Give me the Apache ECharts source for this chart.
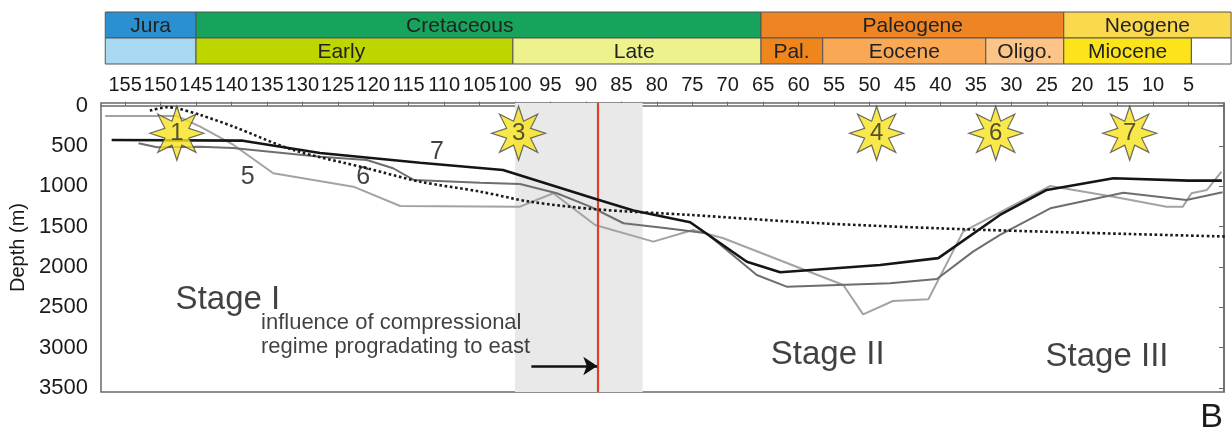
<!DOCTYPE html>
<html><head><meta charset="utf-8">
<script src="https://cdn.jsdelivr.net/npm/echarts@6/dist/echarts.min.js"></script>
<style>html,body{margin:0;padding:0;background:#fff}#c{width:1232px;height:437px}</style>
</head><body><div id="c"></div>
<script>
// ---------- data ----------
const xTicks = [155,150,145,140,135,130,125,120,115,110,105,100,95,90,85,80,75,70,65,60,55,50,45,40,35,30,25,20,15,10,5];
const yTicks = [0,500,1000,1500,2000,2500,3000,3500];

// geologic time scale: [startMa, endMa, row, label, colour, labelCentreMa]
const timeRow1 = [
  [157.8,145,0,'Jura','#2b90cf',151.4],
  [145,65.3,0,'Cretaceous','#18a35c',107.8],
  [65.3,22.6,0,'Paleogene','#ee8424',43.9],
  [22.6,-1,0,'Neogene','#fbd94f',10.8]
];
const timeRow2 = [
  [157.8,145,1,'','#a9d8f1',151.4],
  [145,100.3,1,'Early','#bdd600',124.5],
  [100.3,65.3,1,'Late','#eef28c',83.2],
  [65.3,56.6,1,'Pal.','#ef861c',61.0],
  [56.6,33.6,1,'Eocene','#f9a955',45.1],
  [33.6,22.6,1,'Oligo.','#fcc487',28.1],
  [22.6,4.6,1,'Miocene','#fde41a',13.6],
  [4.6,-1,1,'','#ffffff',1.8]
];

// subsidence curves: [age Ma, depth m]
const curve7 = [[156.9,425],[138.4,434],[127.5,587],[113.4,707],[101.7,797],[88.5,1160],[83.3,1300],[75.3,1445],[67.3,1935],[62.6,2065],[48.5,1975],[40.3,1890],[31.6,1355],[25.0,1045],[15.6,900],[5.0,930],[0.3,930]];
const curve6 = [[153.1,466],[150.5,516],[144.4,508],[139.8,525],[127.5,632],[120.9,673],[117.2,776],[114.3,921],[104.9,955],[99.3,971],[94.1,1086],[89.4,1252],[84.7,1458],[78.6,1520],[73.0,1582],[65.9,2099],[61.7,2244],[47.1,2202],[40.5,2149],[35.4,1810],[31.6,1603],[24.5,1272],[14.2,1079],[5.3,1169],[0.2,1074]];
const curve5 = [[157.8,128],[147.7,128],[144.4,260],[139.7,487],[134.1,838],[122.8,1004],[116.2,1244],[99.3,1252],[94.6,1086],[88.7,1479],[80.5,1686],[74.9,1541],[70.6,1644],[53.7,2223],[50.9,2587],[46.7,2422],[41.7,2401],[36.8,1562],[24.5,996],[15.6,1128],[8.1,1252],[5.8,1252],[4.6,1086],[2.4,1045],[0.35,818]];
const curveDotted = [[151.5,62],[149.1,20],[147.7,32],[144.4,115],[139.7,260],[131.3,549],[120.9,776],[113.4,942],[104.9,1066],[97.9,1190],[88.5,1285],[75.3,1355],[56.9,1458],[33.5,1541],[-1.1,1624]];

// events (stars)
const starAges = [147.7,99.5,49.0,32.2,13.3];
const starDepth = 342;
const starLabels = ['1','3','4','6','7'];

// annotations
const curveLabels = [[137.7,884,'5'],[121.4,884,'6'],[111.0,574,'7']];
const stageLabels = [[140.5,2410,'Stage I'],[55.9,3090,'Stage II'],[16.5,3115,'Stage III']];
const shadeBand = [100,82];
const compressionAge = 88.4;
const arrowFrom = [97.7,3228];
const noteText = ['influence of compressional','regime progradating to east'];
const noteAt = [135.9,2842];

// ---------- chart ----------
const FONT = "'Liberation Sans', Arial, sans-serif";
function starPath(n, R, r){
  let d='';
  for(let i=0;i<2*n;i++){
    const a=-Math.PI/2+i*Math.PI/n, rad=(i%2)?r:R;
    d+=(i?'L':'M')+(R+rad*Math.cos(a)).toFixed(2)+' '+(R+rad*Math.sin(a)).toFixed(2);
  }
  return 'path://'+d+'Z';
}
const chart = echarts.init(document.getElementById('c'), null, {renderer:'canvas'});
const timeData = timeRow1.concat(timeRow2);
const txt = (size, extra) => Object.assign({show:true,position:'inside',fontSize:size,fontFamily:FONT,color:'#111',
  textBorderWidth:0,textShadowBlur:0,formatter:p=>p.data.name}, extra||{});

const option = {
  backgroundColor:'#ffffff',
  animation:false,
  grid:[
    {left:101,right:8,top:103,bottom:45,show:true,borderColor:'#6a6a6a',borderWidth:1.5,backgroundColor:'transparent'},
    {left:101,right:8,top:12,height:52}
  ],
  xAxis:[
    {type:'value',gridIndex:0,position:'top',inverse:true,min:0,max:158.4,
     axisLine:{show:true,lineStyle:{color:'#6a6a6a',width:1.5}},
     axisTick:{show:true,length:4,customValues:xTicks,lineStyle:{color:'#6a6a6a'}},
     axisLabel:{customValues:xTicks,fontSize:20,fontFamily:FONT,color:'#1a1a1a',margin:8},
     splitLine:{show:false}},
    {type:'value',gridIndex:1,inverse:true,min:0,max:158.4,show:false}
  ],
  yAxis:[
    {type:'value',gridIndex:0,inverse:true,min:-33,max:3550,
     name:'Depth (m)',nameLocation:'middle',nameRotate:90,nameGap:70,
     nameTextStyle:{fontSize:20,fontFamily:FONT,color:'#1a1a1a'},
     axisLine:{show:true,lineStyle:{color:'#6a6a6a',width:1.5}},
     axisTick:{show:true,length:5,customValues:yTicks,lineStyle:{color:'#6a6a6a'}},
     axisLabel:{customValues:yTicks,fontSize:22,fontFamily:FONT,color:'#1a1a1a',margin:13,formatter:v=>String(v)},
     splitLine:{show:false}},
    {type:'value',gridIndex:1,inverse:true,min:0,max:2,show:false}
  ],
  series:[
    {type:'custom',xAxisIndex:1,yAxisIndex:1,data:timeData,clip:false,
     renderItem:function(params,api){
       const d=timeData[params.dataIndex];
       const p0=api.coord([d[0],d[2]]);
       const p1=api.coord([d[1],d[2]+1]);
       const pc=api.coord([d[5],d[2]+0.5]);
       return {type:'group',children:[
         {type:'rect',shape:{x:p0[0],y:p0[1],width:p1[0]-p0[0],height:p1[1]-p0[1]},
          style:{fill:d[4],stroke:'#555',lineWidth:1}},
         {type:'text',style:{text:d[3],x:pc[0],y:pc[1]+1,align:'center',verticalAlign:'middle',
          fontSize:21,fontFamily:FONT,fill:'#222'}}
       ]};
     }},
    {type:'line',name:'band',data:[],
     markArea:{silent:true,itemStyle:{color:'#e9e9e9'},data:[[{xAxis:shadeBand[0]},{xAxis:shadeBand[1]}]]},
     markLine:{silent:true,symbol:['none','none'],label:{show:false},lineStyle:{color:'#e0402a',width:2.2,type:'solid'},
       data:[{xAxis:compressionAge}]}},
    {type:'line',name:'5',data:curve5,symbol:'none',lineStyle:{color:'#a3a3a3',width:2},z:3},
    {type:'line',name:'6',data:curve6,symbol:'none',lineStyle:{color:'#6e6e6e',width:2},z:4},
    {type:'line',name:'7',data:curve7,symbol:'none',lineStyle:{color:'#151515',width:2.6},z:5},
    {type:'line',name:'dotted',data:curveDotted,symbol:'none',smooth:0.3,clip:false,
     lineStyle:{color:'#1a1a1a',width:2.6,type:[2.6,2.6]},z:6},
    {type:'lines',coordinateSystem:'cartesian2d',z:7,
     symbol:['none','arrow'],symbolSize:14,
     lineStyle:{color:'#111',width:2.5,opacity:1},
     data:[{coords:[arrowFrom,[compressionAge,arrowFrom[1]]]}]},
    {type:'scatter',z:10,symbol:starPath(8,50,24),symbolSize:54,
     itemStyle:{color:'#f7e21c',borderColor:'#4a4a4a',borderWidth:1.2},
     label:txt(24,{color:'#2a2a2a'}),
     data:starAges.map((a,i)=>({name:starLabels[i],value:[a,starDepth]}))},
    {type:'scatter',z:8,symbolSize:1,itemStyle:{color:'rgba(0,0,0,0)'},
     label:txt(25),
     data:curveLabels.map(c=>({name:c[2],value:[c[0],c[1]]}))},
    {type:'scatter',z:8,symbolSize:1,itemStyle:{color:'rgba(0,0,0,0)'},
     label:txt(33),
     data:stageLabels.map(c=>({name:c[2],value:[c[0],c[1]]}))},
    {type:'scatter',z:8,symbolSize:1,itemStyle:{color:'rgba(0,0,0,0)'},
     label:txt(22,{position:'right',distance:0,align:'left',lineHeight:24}),
     data:[{name:noteText.join('\n'),value:noteAt}]}
  ],
  graphic:[
    {type:'text',right:9,top:401,style:{text:'B',fontSize:34,fontFamily:FONT,fill:'#1a1a1a'}}
  ]
};
chart.setOption(option);
</script>
</body></html>
